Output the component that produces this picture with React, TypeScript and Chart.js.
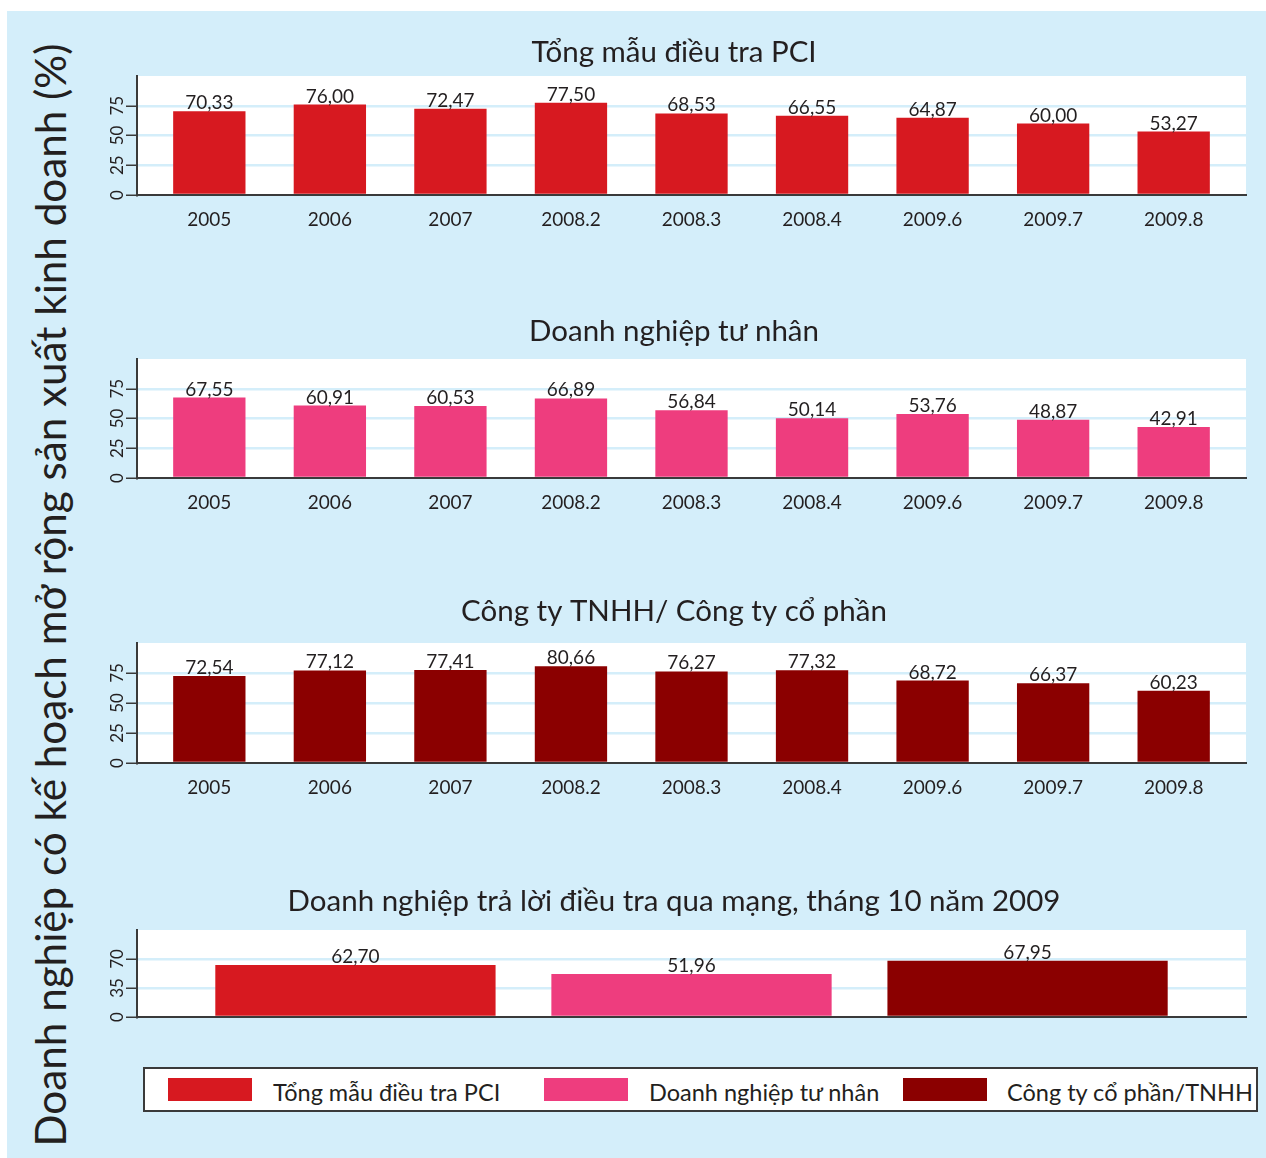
import React, { useEffect, useRef } from 'react';
import { Chart, registerables } from 'chart.js';

Chart.register(...registerables);

// ---------------- data ----------------
const periods = ['2005', '2006', '2007', '2008.2', '2008.3', '2008.4', '2009.6', '2009.7', '2009.8'];
const totalPCI = [70.33, 76.0, 72.47, 77.5, 68.53, 66.55, 64.87, 60.0, 53.27];
const privateFirms = [67.55, 60.91, 60.53, 66.89, 56.84, 50.14, 53.76, 48.87, 42.91];
const companies = [72.54, 77.12, 77.41, 80.66, 76.27, 77.32, 68.72, 66.37, 60.23];
const onlineGroups = ['Tổng mẫu điều tra PCI', 'Doanh nghiệp tư nhân', 'Công ty cổ phần/TNHH'];
const onlineValues = [62.7, 51.96, 67.95];
const mainTicks = [0, 25, 50, 75];
const mainMax = 100;
const onlineTicks = [0, 35, 70];
const onlineMax = 105;
const panelTitles = [
  'Tổng mẫu điều tra PCI',
  'Doanh nghiệp tư nhân',
  'Công ty TNHH/ Công ty cổ phần',
  'Doanh nghiệp trả lời điều tra qua mạng, tháng 10 năm 2009',
];
const yAxisTitle = 'Doanh nghiệp có kế hoạch mở rộng sản xuất kinh doanh (%)';

// ---------------- styles ----------------
const FONT = 'Lato, "Noto Sans", sans-serif';
const TEXT = '#231F20';
const AXIS = '#3a3a3a';
const BG = '#D4EEFA';
const GRID = '#D4EEFA';
const RED = '#D71920';
const PINK = '#EE3D7E';
const DARK = '#8B0000';

const CANVAS_LEFT = 102;
const CANVAS_RIGHT = 1266;
const PLOT_LEFT = 137;
const PLOT_RIGHT = 1246;
const TITLE_SIZE = 29.5;
const TITLE_LH = 1.2;

type Panel = {
  title: string;
  values: number[];
  colors: string | string[];
  labels: string[] | null;
  ticks: number[];
  max: number;
  pad: number;
  barPct: number;
  titleY: number;
  plotTop: number;
  plotBottom: number;
  xAxisH: number;
};

const panels: Panel[] = [
  { title: panelTitles[0], values: totalPCI, colors: RED, labels: periods, ticks: mainTicks, max: mainMax, pad: 0.6, barPct: 0.6, titleY: 52, plotTop: 76, plotBottom: 195, xAxisH: 45 },
  { title: panelTitles[1], values: privateFirms, colors: PINK, labels: periods, ticks: mainTicks, max: mainMax, pad: 0.6, barPct: 0.6, titleY: 331, plotTop: 359, plotBottom: 478, xAxisH: 45 },
  { title: panelTitles[2], values: companies, colors: DARK, labels: periods, ticks: mainTicks, max: mainMax, pad: 0.6, barPct: 0.6, titleY: 611, plotTop: 643, plotBottom: 763, xAxisH: 45 },
  { title: panelTitles[3], values: onlineValues, colors: [RED, PINK, DARK], labels: null, ticks: onlineTicks, max: onlineMax, pad: 0.65, barPct: 0.834, titleY: 901, plotTop: 930, plotBottom: 1017, xAxisH: 16 },
];

const fmt = (v: number) => v.toFixed(2).replace('.', ',');

const whiteArea = {
  id: 'whiteArea',
  beforeDraw(chart: any) {
    const { ctx, chartArea } = chart;
    ctx.save();
    ctx.fillStyle = '#ffffff';
    ctx.fillRect(chartArea.left, chartArea.top, chartArea.right - chartArea.left, chartArea.bottom - chartArea.top);
    ctx.restore();
  },
};

const valueLabels = {
  id: 'valueLabels',
  afterDatasetsDraw(chart: any) {
    const { ctx } = chart;
    const meta = chart.getDatasetMeta(0);
    const data = chart.data.datasets[0].data as any[];
    ctx.save();
    ctx.fillStyle = TEXT;
    ctx.font = `19px ${FONT}`;
    ctx.textAlign = 'center';
    ctx.textBaseline = 'alphabetic';
    meta.data.forEach((el: any, i: number) => {
      ctx.fillText(fmt(data[i].y), el.x, el.y - 2);
    });
    ctx.restore();
  },
};

function makeConfig(p: Panel, canvasTop: number): any {
  const n = p.values.length;
  const padTop = p.titleY - (TITLE_SIZE * TITLE_LH) / 2 - canvasTop;
  const padBottom = p.plotTop - p.titleY - (TITLE_SIZE * TITLE_LH) / 2;
  return {
    type: 'bar',
    data: {
      datasets: [
        {
          data: p.values.map((v, i) => ({ x: i, y: v })),
          backgroundColor: p.colors,
          borderWidth: 0,
          barPercentage: p.barPct,
          categoryPercentage: 1,
        },
      ],
    },
    options: {
      animation: false,
      responsive: false,
      maintainAspectRatio: false,
      layout: { padding: { left: 0, right: CANVAS_RIGHT - PLOT_RIGHT, top: 0, bottom: 0 } },
      plugins: {
        legend: { display: false },
        tooltip: { enabled: false },
        title: {
          display: true,
          text: p.title,
          color: TEXT,
          font: { family: FONT, size: TITLE_SIZE, weight: 'normal', lineHeight: TITLE_LH },
          padding: { top: padTop, bottom: padBottom },
        },
      },
      scales: {
        x: {
          type: 'linear',
          offset: false,
          bounds: 'data',
          min: -p.pad,
          max: n - 1 + p.pad,
          afterBuildTicks: (s: any) => {
            s.ticks = p.values.map((_, i) => ({ value: i }));
          },
          afterFit: (s: any) => {
            s.height = p.xAxisH;
          },
          ticks: {
            display: !!p.labels,
            autoSkip: false,
            maxRotation: 0,
            minRotation: 0,
            padding: 5,
            color: TEXT,
            font: { family: FONT, size: 19 },
            callback: (v: any) => (p.labels ? p.labels[Math.round(v)] ?? '' : ''),
          },
          grid: { display: false, offset: false },
          border: { display: true, color: AXIS, width: 2 },
        },
        y: {
          type: 'linear',
          min: 0,
          max: p.max,
          afterBuildTicks: (s: any) => {
            s.ticks = [...p.ticks, p.max].map((v) => ({ value: v }));
          },
          afterFit: (s: any) => {
            s.width = PLOT_LEFT - CANVAS_LEFT;
          },
          ticks: {
            minRotation: 90,
            maxRotation: 90,
            crossAlign: 'center',
            padding: -1,
            color: TEXT,
            font: { family: FONT, size: 17 },
            callback: (v: any) => (v === p.max ? '' : String(v)),
          },
          grid: {
            color: (c: any) => (c.tick && c.tick.value > 0 && c.tick.value < p.max ? GRID : 'rgba(0,0,0,0)'),
            lineWidth: 2.5,
            tickColor: (c: any) => (c.tick && c.tick.value < p.max ? AXIS : 'rgba(0,0,0,0)'),
            tickLength: 11,
            tickWidth: 1.5,
          },
          border: { display: true, color: AXIS, width: 2 },
        },
      },
    },
    plugins: [whiteArea, valueLabels],
  };
}

function PanelChart({ p }: { p: Panel }) {
  const ref = useRef<HTMLCanvasElement | null>(null);
  const canvasTop = Math.round(p.titleY - (TITLE_SIZE * TITLE_LH) / 2 - 4);
  const height = p.plotBottom + p.xAxisH - canvasTop;
  const width = CANVAS_RIGHT - CANVAS_LEFT;
  useEffect(() => {
    if (!ref.current) return;
    const chart = new Chart(ref.current, makeConfig(p, canvasTop));
    return () => chart.destroy();
  }, []);
  return (
    <canvas
      ref={ref}
      width={width}
      height={height}
      style={{ position: 'absolute', left: CANVAS_LEFT, top: canvasTop, width, height, display: 'block' }}
    />
  );
}

const legendItems = [
  { label: onlineGroups[0], color: RED, swatchX: 168, textX: 273 },
  { label: onlineGroups[1], color: PINK, swatchX: 544, textX: 649 },
  { label: onlineGroups[2], color: DARK, swatchX: 903, textX: 1007 },
];

export default function App() {
  return (
    <div style={{ position: 'absolute', left: 0, top: 0, width: 1266, height: 1158, fontFamily: FONT, color: TEXT }}>
      <div style={{ position: 'absolute', left: 7, top: 11, width: 1259, height: 1147, background: BG }} />
      <div
        style={{
          position: 'absolute',
          left: 49,
          top: 595,
          transform: 'translate(-50%, -50%) rotate(-90deg)',
          whiteSpace: 'nowrap',
          fontSize: 42.2,
          lineHeight: 'normal',
        }}
      >
        {yAxisTitle}
      </div>
      {panels.map((p, i) => (
        <PanelChart key={i} p={p} />
      ))}
      <div
        style={{
          position: 'absolute',
          left: 143,
          top: 1067,
          width: 1115,
          height: 45,
          boxSizing: 'border-box',
          border: `2px solid ${AXIS}`,
          background: '#ffffff',
        }}
      />
      {legendItems.map((it, i) => (
        <React.Fragment key={i}>
          <div style={{ position: 'absolute', left: it.swatchX, top: 1078, width: 84, height: 23, background: it.color }} />
          <div style={{ position: 'absolute', left: it.textX, top: 1078, height: 28, lineHeight: '28px', fontSize: 23.5, whiteSpace: 'nowrap' }}>
            {it.label}
          </div>
        </React.Fragment>
      ))}
    </div>
  );
}
